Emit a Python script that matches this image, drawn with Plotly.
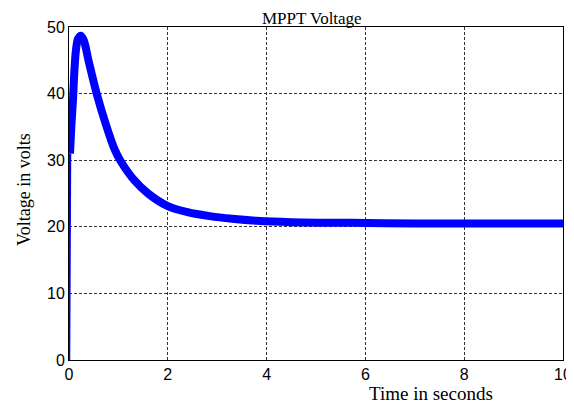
import plotly.graph_objects as go

# Initial thin rise at t=0
rise_t = [0.0, 0.004, 0.012, 0.02]
rise_v = [0.0, 14.0, 26.0, 31.0]

# Main thick curve
time_s = [0.02, 0.05, 0.08, 0.11, 0.14, 0.18, 0.24, 0.30, 0.40, 0.56, 0.75, 0.93,
          1.05, 1.32, 1.60, 2.00, 2.40, 2.85, 3.30, 3.80, 4.50, 5.70, 7.00, 8.50, 10.0]
voltage = [31.0, 35.5, 39.0, 43.5, 46.5, 48.2, 48.7, 48.0, 44.8, 40.0, 35.3, 31.5,
           29.8, 27.0, 25.0, 23.1, 22.2, 21.6, 21.2, 20.9, 20.7, 20.6, 20.5, 20.5, 20.5]

x_ticks = [0, 2, 4, 6, 8, 10]
y_ticks = [0, 10, 20, 30, 40, 50]

# page body adds an 8px offset
OFF = 8
W, H = 574 - OFF, 405 - OFF

fig = go.Figure()
fig.add_trace(go.Scatter(x=rise_t, y=rise_v, mode="lines",
                         line=dict(color="#0000ff", width=2.5), showlegend=False))
fig.add_trace(go.Scatter(x=time_s, y=voltage, mode="lines",
                         line=dict(color="#0000ff", width=8, shape="spline", smoothing=0.8),
                         showlegend=False))

axis_common = dict(showline=True, linecolor="black", linewidth=1, mirror=True,
                   showgrid=True, gridcolor="#333333", gridwidth=1, griddash="3px,2px",
                   zeroline=False, ticks="", automargin=False,
                   tickfont=dict(family="Liberation Sans, Arial", size=16, color="black"))

fig.update_xaxes(range=[0, 10], tickvals=x_ticks, ticktext=[str(v) for v in x_ticks],
                 **axis_common)
fig.update_yaxes(range=[0, 50], tickvals=y_ticks, ticktext=[str(v) for v in y_ticks],
                 **axis_common)

# target pixel positions in the window
pl, pr, pt, pb = 69, 563, 27, 360
serif_family = "Liberation Serif, Times New Roman"
texts = [("MPPT Voltage", 312, 18, 0, 17),
         ("Time in seconds", 431, 393, 0, 19),
         ("Voltage in volts", 24, 190, -90, 18)]

anns = []
for txt, px, py, ang, sz in texts:
    anns.append(dict(text=txt, x=(px - pl) / (pr - pl), y=(pb - py) / (pb - pt),
                     xref="paper", yref="paper", xanchor="center", yanchor="middle",
                     showarrow=False, textangle=ang,
                     font=dict(family=serif_family, size=sz, color="black")))

fig.update_layout(
    width=W, height=H,
    margin=dict(l=pl - OFF, r=W - (pr - OFF), t=pt - OFF, b=H - (pb - OFF), pad=0),
    paper_bgcolor="white", plot_bgcolor="white",
    annotations=anns,
)

fig.write_html("out.html")
